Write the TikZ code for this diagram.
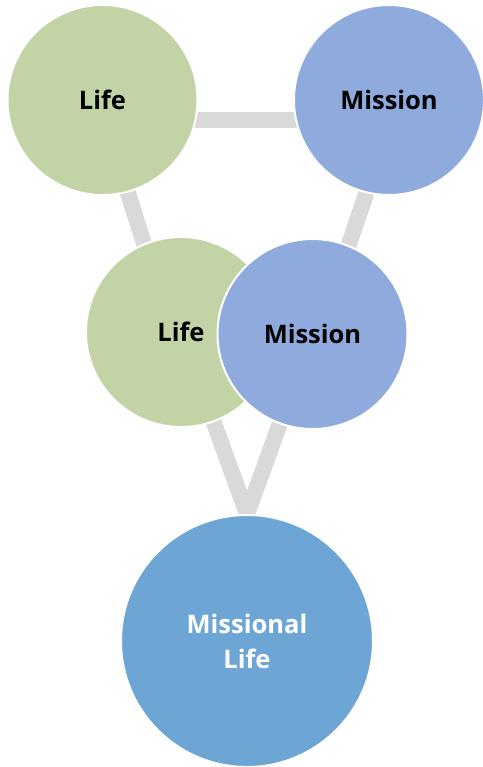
\documentclass[tikz,border=0pt]{standalone}
\usepackage{fontspec}
\setmainfont{Open Sans}
\usetikzlibrary{calc,backgrounds}
\definecolor{lifegreen}{HTML}{C2D3A6}
\definecolor{missblue}{HTML}{8FAADC}
\definecolor{mlblue}{HTML}{6DA6D5}
\definecolor{linkgray}{HTML}{D9D9D9}
\tikzset{
  bubble/.style={circle, draw=white, line width=2pt, inner sep=0pt, align=center,
    font=\fontsize{25.5}{35}\selectfont\bfseries},
  small/.style={bubble, minimum size=190pt},
  big/.style={bubble, minimum size=252pt, text=white},
  link/.style={draw=linkgray, line width=16pt}
}
\begin{document}
\begin{tikzpicture}[x=1pt,y=-1pt]
\useasboundingbox (0,0) rectangle (482,767);
\node[small, fill=lifegreen] (lifeA) at (102.5,100) {Life};
\node[small, fill=missblue] (missA) at (389,100) {Mission};
\node[small, fill=lifegreen] (lifeB) at (181,332) {Life};
\node[small, fill=missblue] (missB) at (312.5,334) {Mission};
\node[big, fill=mlblue] (ml) at (247,641) {Missional\\Life};
\begin{scope}[on background layer]
\draw[link] ($(lifeA)+(0,20)$) -- ($(missA)+(0,20)$);
\draw[link] ($(lifeA)+(-4,0)$) -- ($(lifeB)+(-9,0)$);
\draw[link] ($(missA)+(9,0)$) -- ($(missB)+(6,0)$);
\draw[link] (lifeB.center) -- (ml.north);
\draw[link] (missB.center) -- (ml.north);
\end{scope}
\end{tikzpicture}
\end{document}
